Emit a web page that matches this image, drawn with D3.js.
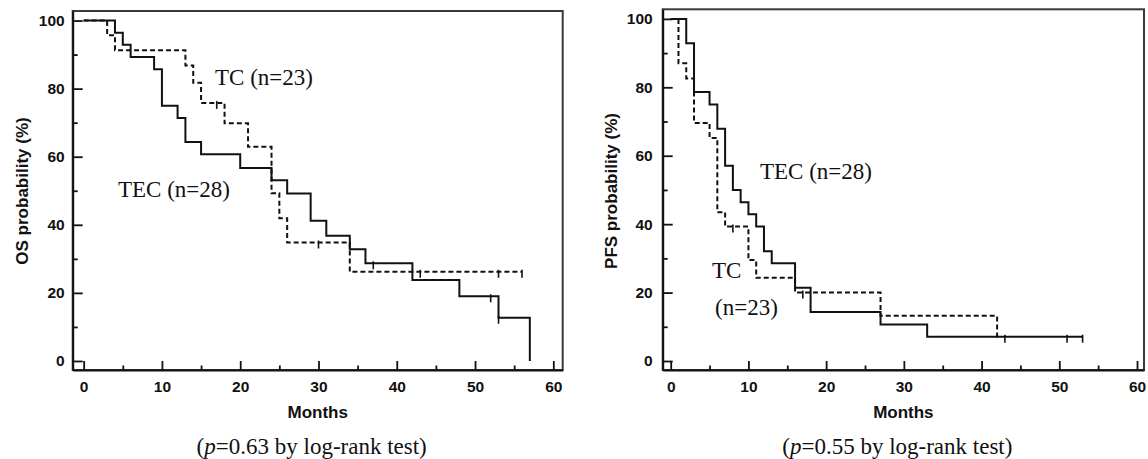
<!DOCTYPE html>
<html lang="en">
<head>
    <meta charset="UTF-8">
    <title>OS / PFS Kaplan-Meier</title>
    <script src="https://cdn.jsdelivr.net/npm/d3@7"></script>
    <style>
        body { margin: 0; background: white; }
        .tick text { font-family: "Liberation Sans", Arial, sans-serif; font-weight: 700; font-size: 15.5px; fill: #111; }
        .axlabel { font-family: "Liberation Sans", Arial, sans-serif; font-weight: 700; font-size: 17px; fill: #111; }
        .serif { font-family: "Liberation Serif", "Times New Roman", serif; font-size: 23px; fill: #111; }
    </style>
</head>
<body>
<div id="chart"></div>
<script>
    // tick labels
    const xTicks = [0, 10, 20, 30, 40, 50, 60];
    const xMinor = [5, 15, 25, 35, 45, 55];
    const yTicks = [0, 20, 40, 60, 80, 100];
    const yMinor = [10, 30, 50, 70, 90];

    // OS, TEC (solid)
    const osTecTime = [0, 4, 5, 6, 9, 10, 12, 13, 15, 20, 24, 26, 29, 31, 34, 36, 42, 48, 53, 57];
    const osTecSurv = [100, 96.4, 92.9, 89.3, 85.7, 75.0, 71.4, 64.3, 60.7, 56.7, 53.1, 49.2, 41.2, 36.8, 32.8, 28.7, 23.8, 19.0, 12.7, 0];
    const osTecCens = [37, 52, 53];
    // OS, TC (dashed)
    const osTcTime = [0, 3, 4, 13, 14, 15, 18, 21, 24, 25, 26, 34];
    const osTcSurv = [100, 95.7, 91.3, 86.8, 81.7, 75.8, 69.8, 62.9, 49.3, 41.9, 34.8, 26.2];
    const osTcEnd = 56;
    const osTcCens = [17, 30, 43, 53, 56];

    // PFS, TEC (solid)
    const pfsTecTime = [0, 2, 3, 5, 6, 7, 8, 9, 10, 11, 12, 13, 16, 18, 27, 33];
    const pfsTecSurv = [100, 92.9, 78.6, 75.0, 67.9, 57.1, 50.0, 46.4, 42.9, 39.3, 32.1, 28.6, 21.4, 14.3, 10.7, 7.1];
    const pfsTecEnd = 53;
    const pfsTecCens = [43, 51, 53];
    // PFS, TC (dashed)
    const pfsTcTime = [0, 1, 2, 3, 5, 6, 7, 10, 11, 16, 27, 42];
    const pfsTcSurv = [100, 87.0, 82.6, 69.6, 65.2, 43.5, 39.3, 29.5, 24.3, 20.0, 13.2, 6.8];
    const pfsTcEnd = 42.3;
    const pfsTcCens = [8, 17];

    const width = 1148, height = 459;

    const svg = d3.select("#chart").append("svg")
        .attr("width", width)
        .attr("height", height)
        .style("background", "white");

    const panels = [
        {
            left: 72.7, right: 562.7, top: 11, bottom: 370,
            xDomain: [-1.4, 61.2], yDomain: [-2.65, 102.8], labPad: 8,
            ylabel: "OS probability (%)", ylabelX: 22, pval: "0.63",
            tec: { t: osTecTime, s: osTecSurv, end: null, cens: osTecCens },
            tc: { t: osTcTime, s: osTcSurv, end: osTcEnd, cens: osTcCens },
            notes: [
                { text: "TC (n=23)", x: 215, y: 85 },
                { text: "TEC (n=28)", x: 118, y: 197 }
            ]
        },
        {
            left: 662.7, right: 1144, top: 9.3, bottom: 370,
            xDomain: [-1.03, 60.9], yDomain: [-2.63, 102.8], labPad: 10,
            ylabel: "PFS probability (%)", ylabelX: 611, pval: "0.55",
            tec: { t: pfsTecTime, s: pfsTecSurv, end: pfsTecEnd, cens: pfsTecCens },
            tc: { t: pfsTcTime, s: pfsTcSurv, end: pfsTcEnd, cens: pfsTcCens },
            notes: [
                { text: "TEC (n=28)", x: 760, y: 179 },
                { text: "TC", x: 712, y: 278 },
                { text: "(n=23)", x: 715, y: 315 }
            ]
        }
    ];

    panels.forEach(p => {
        const x = d3.scaleLinear().domain(p.xDomain).range([p.left, p.right]);
        const y = d3.scaleLinear().domain(p.yDomain).range([p.bottom, p.top]);
        const g = svg.append("g");

        // frame
        g.append("rect")
            .attr("x", p.left).attr("y", p.top)
            .attr("width", p.right - p.left).attr("height", p.bottom - p.top)
            .attr("fill", "none").attr("stroke", "#3a3a3a").attr("stroke-width", 2);

        // minor ticks
        g.append("g")
            .attr("transform", `translate(0,${p.bottom})`)
            .call(d3.axisBottom(x).tickValues(xMinor).tickSize(-4.5).tickFormat(""))
            .call(a => a.select(".domain").remove());
        g.append("g")
            .attr("transform", `translate(${p.left},0)`)
            .call(d3.axisLeft(y).tickValues(yMinor).tickSize(-5).tickFormat(""))
            .call(a => a.select(".domain").remove());

        // major axes
        const xa = g.append("g")
            .attr("transform", `translate(0,${p.bottom})`)
            .call(d3.axisBottom(x).tickValues(xTicks).tickSize(-9).tickSizeOuter(0).tickPadding(11));
        const ya = g.append("g")
            .attr("transform", `translate(${p.left},0)`)
            .call(d3.axisLeft(y).tickValues(yTicks).tickSize(-10).tickSizeOuter(0).tickPadding(p.labPad));
        [xa, ya].forEach(a => {
            a.selectAll("line").attr("stroke", "#111").attr("stroke-width", 1.8);
            a.select(".domain").attr("stroke", "#111").attr("stroke-width", 2);
        });
        g.selectAll(".tick line").attr("stroke", "#111").attr("stroke-width", 1.8);

        // curves
        const line = d3.line()
            .x(d => x(d[0]))
            .y(d => y(d[1]))
            .curve(d3.curveStepAfter);

        const drawCurve = (c, dash) => {
            const pts = c.t.map((t, i) => [t, c.s[i]]);
            if (c.end != null) pts.push([c.end, c.s[c.s.length - 1]]);
            g.append("path")
                .datum(pts)
                .attr("d", line)
                .attr("fill", "none")
                .attr("stroke", "#111")
                .attr("stroke-width", 2)
                .attr("stroke-dasharray", dash);
            // censor marks
            const survAt = t => {
                let v = c.s[0];
                c.t.forEach((tt, i) => { if (tt <= t) v = c.s[i]; });
                return v;
            };
            g.selectAll(null)
                .data(c.cens)
                .join("line")
                .attr("x1", d => x(d)).attr("x2", d => x(d))
                .attr("y1", d => y(survAt(d)) - 2)
                .attr("y2", d => y(survAt(d)) + 6)
                .attr("stroke", "#111")
                .attr("stroke-width", 1.6);
        };
        drawCurve(p.tc, "5,3");
        drawCurve(p.tec, null);

        // labels
        const cx = (p.left + p.right) / 2;
        g.append("text")
            .attr("class", "axlabel")
            .attr("x", cx).attr("y", 418)
            .attr("text-anchor", "middle")
            .text("Months");
        g.append("text")
            .attr("class", "axlabel")
            .attr("transform", `translate(${p.ylabelX},191) rotate(-90)`)
            .attr("text-anchor", "middle")
            .attr("dy", "0.35em")
            .text(p.ylabel);

        const cap = g.append("text")
            .attr("class", "serif")
            .attr("x", cx - 6).attr("y", 454)
            .attr("text-anchor", "middle");
        cap.append("tspan").text("(");
        cap.append("tspan").attr("font-style", "italic").text("p");
        cap.append("tspan").text(`=${p.pval} by log-rank test)`);

        p.notes.forEach(n => {
            g.append("text")
                .attr("class", "serif")
                .attr("x", n.x).attr("y", n.y)
                .text(n.text);
        });
    });
</script>
</body>
</html>
